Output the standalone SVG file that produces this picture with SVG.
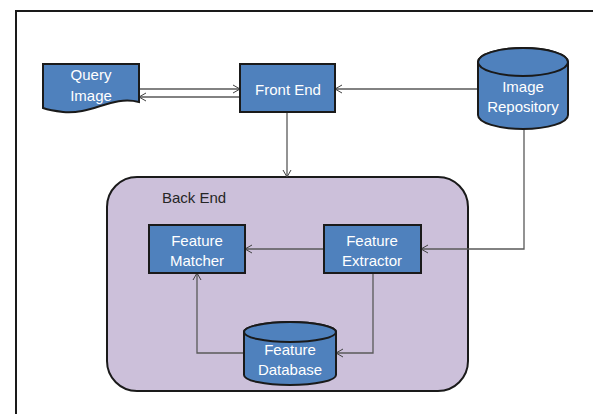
<svg xmlns="http://www.w3.org/2000/svg" width="593" height="414" viewBox="0 0 593 414">
<defs>
<marker id="arr" markerWidth="10" markerHeight="10" refX="8" refY="5" orient="auto" markerUnits="userSpaceOnUse">
<path d="M1,1 L8,5 L1,9" fill="none" stroke="#404040" stroke-width="1"/>
</marker>
<style>
.node{fill:#4F81BD;stroke:#1a1a1a;stroke-width:2}
.lbl{font-family:"Liberation Sans",Arial,sans-serif;font-size:15px;fill:#ffffff;text-anchor:middle;dominant-baseline:central}
.conn{fill:none;stroke:#595959;stroke-width:1.3;marker-end:url(#arr)}
</style>
</defs>
<rect width="593" height="414" fill="#ffffff"/>
<path d="M16,414 V11 H593" fill="none" stroke="#1a1a1a" stroke-width="2"/>
<g id="backend">
<rect x="107" y="177" width="361" height="214" rx="30" ry="30" fill="#CCC0DA" stroke="#1a1a1a" stroke-width="2"/>
<text x="162" y="197" style="font-family:'Liberation Sans',Arial,sans-serif;font-size:15px;fill:#262626;dominant-baseline:central">Back End</text>
</g>
<g id="connectors">
<line class="conn" x1="139" y1="89" x2="240" y2="89"/>
<line class="conn" x1="240" y1="97" x2="139" y2="97"/>
<line class="conn" x1="478" y1="89" x2="335" y2="89"/>
<line class="conn" x1="287" y1="112" x2="287" y2="177"/>
<path class="conn" d="M524,129 V249 H421"/>
<line class="conn" x1="324" y1="249" x2="245" y2="249"/>
<path class="conn" d="M373,273 V353 H336"/>
<path class="conn" d="M244,353 H197 V273"/>
</g>
<g id="query-image">
<path class="node" d="M43,64 H139 V102 C112,95 92,115 63,112 C55,111 49,110 43,108 Z"/>
<text class="lbl" x="91" y="74">Query</text>
<text class="lbl" x="91" y="95">Image</text>
</g>
<g id="front-end">
<rect class="node" x="240" y="64" width="95" height="48"/>
<text class="lbl" x="288" y="89">Front End</text>
</g>
<g id="image-repository">
<path class="node" d="M478,62 V115 A45,14 0 0 0 568,115 V62 A45,14 0 0 0 478,62 Z"/>
<ellipse class="node" cx="523" cy="62" rx="45" ry="14"/>
<text class="lbl" x="523" y="86">Image</text>
<text class="lbl" x="523" y="106">Repository</text>
</g>
<g id="feature-matcher">
<rect class="node" x="149" y="225" width="96" height="48"/>
<text class="lbl" x="197" y="240">Feature</text>
<text class="lbl" x="197" y="260">Matcher</text>
</g>
<g id="feature-extractor">
<rect class="node" x="324" y="225" width="97" height="48"/>
<text class="lbl" x="372" y="240">Feature</text>
<text class="lbl" x="372" y="260">Extractor</text>
</g>
<g id="feature-database">
<path class="node" d="M244,332 V375 A46,10 0 0 0 336,375 V332 A46,10 0 0 0 244,332 Z"/>
<ellipse class="node" cx="290" cy="332" rx="46" ry="10"/>
<text class="lbl" x="290" y="349">Feature</text>
<text class="lbl" x="290" y="369">Database</text>
</g>
</svg>
